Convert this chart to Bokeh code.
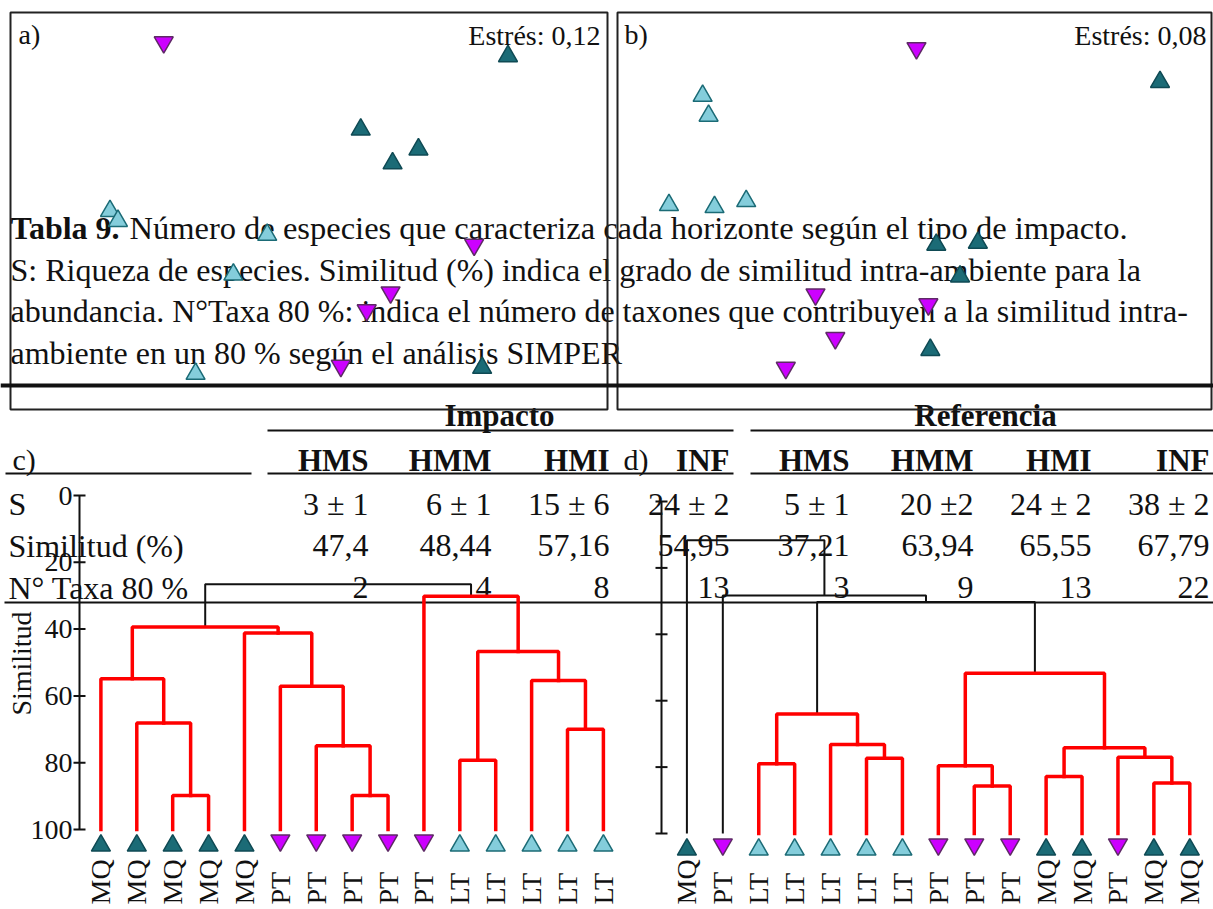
import math
from bokeh.plotting import figure
from bokeh.models import Range1d
from bokeh.core.properties import value
from bokeh.embed import file_html
from bokeh.resources import INLINE

W, H = 1213, 909
SERIF = value("Liberation Serif")

# ---------------- NMDS ordination scores ----------------
# a) impact sites
grp_a = ["PT", "MQ", "MQ", "MQ", "MQ", "LT", "LT", "LT", "PT", "LT", "PT", "PT", "PT", "LT", "MQ"]
nmds1_a = [-0.73, 1.00, 0.26, 0.42, 0.55, -1.00, -0.96, -0.21, 0.83, -0.38, 0.41, 0.29, 0.16, -0.57, 0.87]
nmds2_a = [0.85, 0.78, 0.41, 0.24, 0.31, 0.00, -0.05, -0.12, -0.17, -0.32, -0.41, -0.50, -0.78, -0.82, -0.79]
stress_a = "0,12"
# b) reference sites
grp_b = ["PT", "MQ", "LT", "LT", "LT", "LT", "LT", "MQ", "MQ", "MQ", "PT", "PT", "PT", "PT", "MQ"]
nmds1_b = [0.01, 1.24, -1.07, -1.04, -1.24, -1.01, -0.85, 0.11, 0.32, 0.23, -0.50, 0.07, -0.40, -0.65, 0.08]
nmds2_b = [0.82, 0.65, 0.58, 0.48, 0.03, 0.02, 0.05, -0.17, -0.16, -0.33, -0.42, -0.47, -0.64, -0.79, -0.70]
stress_b = "0,08"

# ---------------- Cluster analysis (Bray-Curtis similarity) ----------------
# leaves in dendrogram order; merges reference leaves (0..14) or earlier merges (15..)
leaves_c = ["MQ", "MQ", "MQ", "MQ", "MQ", "PT", "PT", "PT", "PT", "PT", "LT", "LT", "LT", "LT", "LT"]
c_left = [2, 1, 0, 7, 6, 5, 4, 17, 10, 13, 12, 23, 9, 22]
c_right = [3, 15, 16, 8, 18, 19, 20, 21, 11, 14, 24, 25, 26, 27]
c_sim = [89.8, 68.1, 54.9, 89.8, 74.9, 57.1, 41.2, 39.4, 79.3, 70.0, 55.4, 46.7, 30.2, 26.6]
c_signif = [1, 1, 1, 1, 1, 1, 1, 1, 1, 1, 1, 1, 1, 0]

leaves_d = ["MQ", "PT", "LT", "LT", "LT", "LT", "LT", "PT", "PT", "PT", "MQ", "MQ", "PT", "MQ", "MQ"]
d_left = [2, 5, 4, 15, 8, 7, 10, 13, 12, 21, 20, 18, 1, 0]
d_right = [3, 6, 16, 17, 9, 19, 11, 14, 22, 23, 24, 25, 26, 27]
d_sim = [79.0, 77.3, 73.2, 64.0, 85.7, 79.6, 82.8, 84.8, 77.0, 74.2, 51.7, 30.3, 28.3, 11.7]
d_signif = [1, 1, 1, 1, 1, 1, 1, 1, 1, 1, 1, 0, 0, 0]

sim_ticks = [0, 20, 40, 60, 80, 100]

# ---------------- Table 9 ----------------
col_heads = ["HMS", "HMM", "HMI", "INF"]
row_labels = ["S", "Similitud (%)", "N° Taxa 80 %"]
imp_S = ["3 ± 1", "6 ± 1", "15 ± 6", "24 ± 2"]
imp_sim = ["47,4", "48,44", "57,16", "54,95"]
imp_taxa = ["2", "4", "8", "13"]
ref_S = ["5 ± 1", "20 ±2", "24 ± 2", "38 ± 2"]
ref_sim = ["37,21", "63,94", "65,55", "67,79"]
ref_taxa = ["3", "9", "13", "22"]

caption_bold = "Tabla 9."
caption_lines = [
    "Número de especies que caracteriza cada horizonte según el tipo de impacto.",
    "S: Riqueza de especies. Similitud (%) indica el grado de similitud intra-ambiente para la",
    "abundancia. N°Taxa 80 %: indica el número de taxones que contribuyen a la similitud intra-",
    "ambiente en un 80 % según el análisis SIMPER",
]

# ---------------- styles ----------------
STYLE = {
    "MQ": dict(marker="triangle", fill_color="#1b6b76", line_color="#0f4a54"),
    "LT": dict(marker="triangle", fill_color="#84cddb", line_color="#1b6b76"),
    "PT": dict(marker="inverted_triangle", fill_color="#cc00ff", line_color="#5e2a66"),
}
RED = "#ff0000"
INK = "#111111"


def span(d0, d1, p0, p1, total):
    """values at pixel 0 and pixel `total` for a linear map d0->p0, d1->p1"""
    k = (d1 - d0) / (p1 - p0)
    return d0 - p0 * k, d0 + (total - p0) * k


def xr(d0, d1, p0, p1):
    a, b = span(d0, d1, p0, p1, W)
    return Range1d(start=a, end=b)


def yr(d_top, d_bot, p_top, p_bot):
    a, b = span(d_top, d_bot, p_top, p_bot, H)
    return Range1d(start=b, end=a)


p = figure(width=W, height=H, x_range=Range1d(0, W), y_range=Range1d(H, 0),
           output_backend="svg", toolbar_location=None, min_border=0,
           x_axis_type=None, y_axis_type=None)
p.outline_line_color = None
p.background_fill_color = "white"
p.border_fill_color = "white"

# panel boxes (pixels)
BOX_A = (10, 607, 12, 409)
BOX_B = (617, 1211, 12, 409)

p.extra_x_ranges = {
    "nx_a": xr(-1.5, 1.5, BOX_A[0], BOX_A[1]),
    "nx_b": xr(-1.5, 1.5, BOX_B[0], BOX_B[1]),
    "dx_c": xr(0, 14, 100.4, 602.9),
    "dx_d": xr(0, 14, 686.4, 1189.3),
}
p.extra_y_ranges = {
    "ny_a": yr(1.0, -1.0, BOX_A[2], BOX_A[3]),
    "ny_b": yr(1.0, -1.0, BOX_B[2], BOX_B[3]),
    "dy_c": yr(0, 100, 495, 829),
    "dy_d": yr(0, 100, 501, 833),
}


def txt(x, y, t, size, align="left", baseline="alphabetic", bold=False, angle=0.0,
        xname="default", yname="default", color=INK):
    p.text(x=x, y=y, text=t, text_font=SERIF, text_font_size=value(size),
           text_align=align, text_baseline=baseline, angle=angle,
           text_font_style="bold" if bold else "normal", text_color=color,
           x_range_name=xname, y_range_name=yname)


# ---------------- table ----------------
col_right = [368, 491, 609, 729, 849, 973, 1091, 1209]
row_base = [503, 545, 587]
txt([8, 8, 8], row_base, row_labels, "32px")
txt(col_right, [460] * 8, col_heads + col_heads, "31px", align="right", bold=True)
for vals_i, vals_r, yb in zip([imp_S, imp_sim, imp_taxa], [ref_S, ref_sim, ref_taxa], row_base):
    txt(col_right, [yb] * 8, vals_i + vals_r, "32px", align="right")
txt([499, 985], [415, 415], ["Impacto", "Referencia"], "31px", align="center", bold=True)
txt([12, 623], [459, 459], ["c)", "d)"], "30px")

p.segment(x0=[267, 750, 5, 267, 750, 4], x1=[733, 1213, 251, 733, 1213, 1213],
          y0=[430, 430, 473, 473, 473, 602], y1=[430, 430, 473, 473, 473, 602],
          line_color=INK, line_width=2)

# ---------------- caption ----------------
txt([10], [227], [caption_bold], "32px", bold=True)
txt([129], [227], caption_lines[:1], "32.5px")
txt([10, 10, 10], [269, 310, 352], caption_lines[1:], "32px")

# ---------------- NMDS panels ----------------
for box in (BOX_A, BOX_B):
    p.quad(left=[box[0]], right=[box[1]], top=[box[2]], bottom=[box[3]],
           fill_color=None, line_color="#222222", line_width=2)
p.segment(x0=[0], x1=[W], y0=[385], y1=[385], line_color=INK, line_width=4)

for grp, n1, n2, xn, yn in [(grp_a, nmds1_a, nmds2_a, "nx_a", "ny_a"),
                            (grp_b, nmds1_b, nmds2_b, "nx_b", "ny_b")]:
    for g in ["LT", "MQ", "PT"]:
        xs = [a for a, k in zip(n1, grp) if k == g]
        ys = [b for b, k in zip(n2, grp) if k == g]
        p.scatter(xs, ys, size=19, line_width=1.5, x_range_name=xn, y_range_name=yn, **STYLE[g])

txt([18, 624], [34, 34], ["a)", "b)"], "28px")
txt([600, 1206], [35, 35], ["Estrés: " + stress_a, "Estrés: " + stress_b], "28px", align="right")

# ---------------- dendrograms ----------------
def dendro(leaves, left, right, sim, signif, xn, yn, ax_x, labels_on):
    n = len(leaves)
    xpos = list(range(n))
    hgt = [100.0] * n
    red_xs, red_ys, blk_xs, blk_ys = [], [], [], []
    for a, b, s, sg in zip(left, right, sim, signif):
        xs = [xpos[a], xpos[a], xpos[b], xpos[b]]
        ys = [hgt[a], s, s, hgt[b]]
        if sg:
            red_xs.append(xs); red_ys.append(ys)
        else:
            blk_xs.append(xs); blk_ys.append(ys)
        xpos.append((xpos[a] + xpos[b]) / 2)
        hgt.append(s)
    # axis
    p.segment(x0=[ax_x], x1=[ax_x], y0=[sim_ticks[0]], y1=[sim_ticks[-1]],
              line_color=INK, line_width=2, y_range_name=yn)
    p.segment(x0=[ax_x - 6] * len(sim_ticks), x1=[ax_x + 6] * len(sim_ticks),
              y0=sim_ticks, y1=sim_ticks, line_color=INK, line_width=2, y_range_name=yn)
    if labels_on:
        txt([ax_x - 7] * len(sim_ticks), sim_ticks, [str(t) for t in sim_ticks], "28px",
            align="right", baseline="middle", yname=yn)
    p.multi_line(blk_xs, blk_ys, line_color=INK, line_width=2, x_range_name=xn, y_range_name=yn)
    p.multi_line(red_xs, red_ys, line_color=RED, line_width=3.5, x_range_name=xn, y_range_name=yn,
                 line_cap="square")
    # leaf symbols and labels
    for g in ["MQ", "LT", "PT"]:
        idx = [i for i, k in enumerate(leaves) if k == g]
        off = -2.6 if g == "PT" else 2.6
        yv = 100 + (13.5 + off) / (3.34 if yn == "dy_c" else 3.32)
        p.scatter(idx, [yv] * len(idx), size=19, line_width=1.5,
                  x_range_name=xn, y_range_name=yn, **STYLE[g])
    txt(list(range(n)), [904] * n, leaves, "28px", align="left", baseline="middle",
        angle=math.pi / 2, xname=xn)


dendro(leaves_c, c_left, c_right, c_sim, c_signif, "dx_c", "dy_c", 79, True)
dendro(leaves_d, d_left, d_right, d_sim, d_signif, "dx_d", "dy_d", 661, False)

txt([21], [663], ["Similitud"], "28px", align="center", baseline="middle", angle=math.pi / 2)

open("out.html", "w").write(file_html(p, INLINE))
